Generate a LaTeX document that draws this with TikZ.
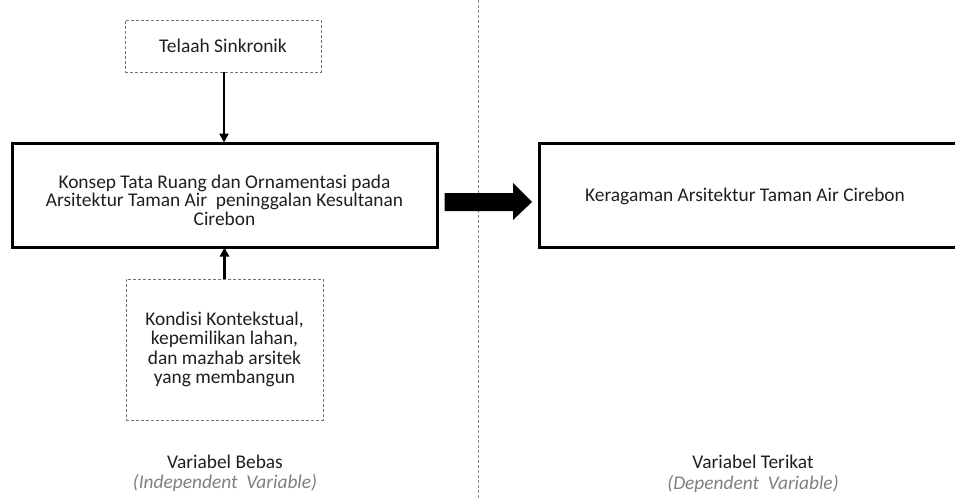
\documentclass[tikz,border=0pt]{standalone}
\usepackage{fontspec}
\setmainfont{Carlito}
\usetikzlibrary{arrows.meta,calc}
\tikzset{
  txt/.style={font=\fontsize{19.4}{19.3}\selectfont, text=black!88, align=center, inner sep=0pt},
  dbox/.style={draw=black!55, line width=0.9pt, dash pattern=on 3pt off 2pt, txt},
  mbox/.style={draw=black, line width=3pt, txt},
  conn/.style={draw=black, line width=2.6pt, -{Triangle[length=9pt,width=9pt]}, shorten >=-1pt},
  sublbl/.style={font=\fontsize{19.4}{19}\selectfont\itshape, text=black!50, inner sep=0pt},
  lbl/.style={font=\fontsize{19.4}{19}\selectfont, text=black!88, inner sep=0pt}
}
\begin{document}
\begin{tikzpicture}[x=1pt,y=-1pt]
\useasboundingbox (0,0) rectangle (955,498);
\begin{scope}
\clip (0,0) rectangle (955,498);
% separator
\draw[black!45, line width=0.8pt, dash pattern=on 3pt off 2pt] (478,0) -- (478,498);
% nodes
\node[dbox, minimum width=196pt, minimum height=52pt] (tel) at (223,46) {Telaah Sinkronik};
\node[mbox, minimum width=425pt, minimum height=104pt] (main) at (224.5,195) {};
\node[txt, font=\fontsize{19.4}{18.5}\selectfont] (maintxt) at (224.5,200) {Konsep Tata Ruang dan Ornamentasi pada\\Arsitektur Taman Air~ peninggalan Kesultanan\\Cirebon};
\node[dbox, minimum width=197pt, minimum height=141pt] (kon) at (224.5,349.5) {Kondisi Kontekstual,\\kepemilikan lahan,\\dan mazhab arsitek\\yang membangun};
\node[mbox, minimum width=424pt, minimum height=104pt, anchor=west] (res) at (538,195) {};
\node[txt] (restxt) at (745,196) {Keragaman Arsitektur Taman Air Cirebon};
% connectors
\coordinate (ta) at ($(tel.south)+(1,0)$);
\draw[conn] (ta) -- (ta |- main.north);
\draw[conn] (kon.north) -- (main.south);
% block arrow
\coordinate (ba) at ($(main.east)+(6,7)$);
\coordinate (bb) at ($(res.west)+(-6,7)$);
\fill[black] ($(ba)+(0,-9)$) -- ($(bb)+(-19,-9)$) -- ($(bb)+(-19,-19)$) -- (bb) -- ($(bb)+(-19,18)$) -- ($(bb)+(-19,9)$) -- ($(ba)+(0,9)$) -- cycle;
% labels
\node[lbl] (vb) at (225,462) {Variabel Bebas};
\node[sublbl] (vbi) at (225,483) {(Independent~ Variable)};
\node[lbl] (vt) at (753,462) {Variabel Terikat};
\node[sublbl] (vti) at (753,484) {(Dependent~ Variable)};
\end{scope}
\end{tikzpicture}
\end{document}
